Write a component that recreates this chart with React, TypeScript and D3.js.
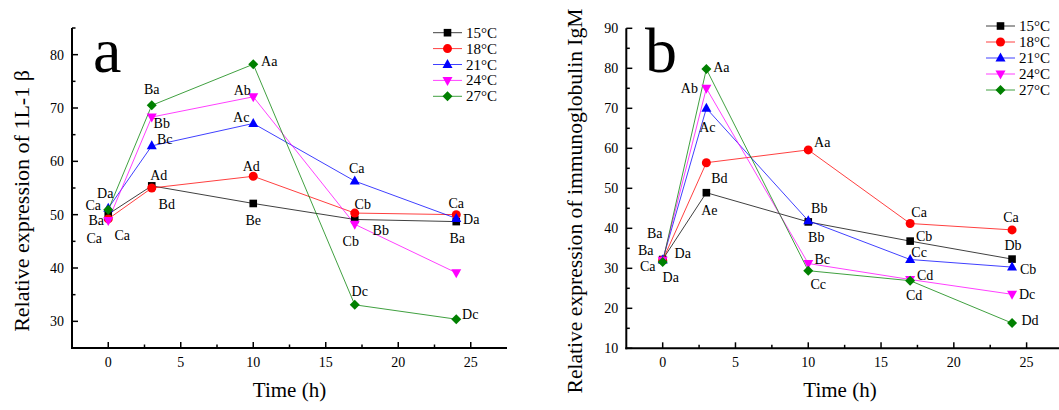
import React from "react";
import * as d3 from "d3";

const times = [0, 3, 10, 17, 24];
const seriesNames = ["15°C", "18°C", "21°C", "24°C", "27°C"];
const colors = ["#000000", "#ff0000", "#0000ff", "#ff00ff", "#008000"];
const shapes = ["square", "circle", "triangle", "triangleDown", "diamond"];

// Panel a: IL-1β
const a15 = [50.1, 55.4, 52.1, 49.1, 48.7];
const a18 = [49.2, 55.0, 57.2, 50.3, 50.0];
const a21 = [51.2, 62.9, 67.1, 56.3, 49.3];
const a24 = [48.9, 68.3, 72.1, 48.2, 39.1];
const a27 = [50.9, 70.5, 78.2, 33.1, 30.4];

// Panel b: IgM
const b15 = [32.2, 48.9, 41.6, 36.8, 32.3];
const b18 = [32.0, 56.4, 59.6, 41.2, 39.6];
const b21 = [32.1, 70.0, 41.9, 32.2, 30.3];
const b24 = [32.0, 75.0, 31.2, 27.2, 23.5];
const b27 = [31.6, 79.8, 29.4, 26.9, 16.3];

const xTicks = [0, 5, 10, 15, 20, 25];
const yTicksA = [30, 40, 50, 60, 70, 80];
const yTicksB = [10, 20, 30, 40, 50, 60, 70, 80, 90];

// Significance letters: [series index, time index, text, dx, dy]
const labelsA: [number, number, string, number, number][] = [
  [4, 0, "Da", -3, -16],
  [2, 0, "Ca", -15, -3],
  [0, 0, "Ba", -12, 6],
  [3, 0, "Ca", -14, 18],
  [1, 0, "Ca", 14, 17],
  [4, 1, "Ba", 0, -16],
  [3, 1, "Bb", 10, 6],
  [2, 1, "Bc", 13, -6],
  [0, 1, "Ad", 7, -10],
  [1, 1, "Bd", 15, 16],
  [4, 2, "Aa", 16, -3],
  [3, 2, "Ab", -11, -6],
  [2, 2, "Ac", -12, -6],
  [1, 2, "Ad", -2, -10],
  [0, 2, "Be", 0, 17],
  [2, 3, "Ca", 2, -13],
  [1, 3, "Cb", 8, -9],
  [3, 3, "Bb", 26, 6],
  [0, 3, "Cb", -4, 22],
  [4, 3, "Dc", 5, -13],
  [1, 4, "Ca", 0, -11],
  [2, 4, "Da", 15, 1],
  [0, 4, "Ba", 1, 17],
  [4, 4, "Dc", 14, -5],
];

const labelsB: [number, number, string, number, number][] = [
  [0, 0, "Ba", -8, -26],
  [1, 0, "Ba", -17, -10],
  [2, 0, "Da", 20, -6],
  [3, 0, "Ca", -15, 6],
  [4, 0, "Da", 8, 16],
  [4, 1, "Aa", 15, -2],
  [3, 1, "Ab", -17, 0],
  [2, 1, "Ac", 1, 19],
  [1, 1, "Bd", 13, 16],
  [0, 1, "Ae", 3, 18],
  [1, 2, "Aa", 14, -7],
  [2, 2, "Bb", 11, -12],
  [0, 2, "Bb", 8, 16],
  [3, 2, "Bc", 14, -4],
  [4, 2, "Cc", 10, 14],
  [1, 3, "Ca", 9, -11],
  [0, 3, "Cb", 14, -5],
  [2, 3, "Cc", 9, -7],
  [3, 3, "Cd", 15, -4],
  [4, 3, "Cd", 4, 15],
  [1, 4, "Ca", -1, -12],
  [0, 4, "Db", 1, -14],
  [2, 4, "Cb", 16, 2],
  [3, 4, "Dc", 15, 0],
  [4, 4, "Dd", 18, -3],
];

const FONT = '"Liberation Serif", "Times New Roman", Tinos, Times, serif';

function Marker({ shape, x, y, color }: { shape: string; x: number; y: number; color: string }) {
  if (shape === "square") return <rect x={x - 3.8} y={y - 3.8} width={7.6} height={7.6} fill={color} />;
  if (shape === "circle") return <circle cx={x} cy={y} r={4.5} fill={color} />;
  if (shape === "triangle")
    return <path d={`M${x},${y - 5.5}L${x + 5},${y + 3.5}L${x - 5},${y + 3.5}Z`} fill={color} />;
  if (shape === "triangleDown")
    return <path d={`M${x},${y + 5.5}L${x + 5},${y - 3.5}L${x - 5},${y - 3.5}Z`} fill={color} />;
  return <path d={`M${x},${y - 5}L${x + 5},${y}L${x},${y + 5}L${x - 5},${y}Z`} fill={color} />;
}

type PanelProps = {
  data: number[][];
  xRange: [number, number];
  yRange: [number, number];
  yDomain: [number, number];
  yTicks: number[];
  yMinorStep: number;
  labels: [number, number, string, number, number][];
  letter: string;
  letterPos: [number, number];
  yTitle: string;
  yTitleSize: number;
  yTitlePos: [number, number];
  xTitlePos: [number, number];
  legendPos: [number, number];
  legendRowH: number;
};

function Panel(p: PanelProps) {
  const x = d3.scaleLinear().domain([-2.5, 27.5]).range(p.xRange);
  const y = d3.scaleLinear().domain(p.yDomain).range(p.yRange);
  const line = d3
    .line<number>()
    .x((_, i) => x(times[i]))
    .y((d) => y(d));
  const x0 = p.xRange[0];
  const y0 = p.yRange[0];
  const minorX = d3.range(2.5, 27.5, 5);
  const minorY: number[] = [];
  for (let v = p.yDomain[0]; v <= p.yDomain[1] + 1e-9; v += p.yMinorStep) {
    if (!p.yTicks.some((t) => Math.abs(t - v) < 1e-9)) minorY.push(v);
  }
  return (
    <g>
      {/* axes */}
      <line x1={x0} x2={x0} y1={p.yRange[1]} y2={y0 + 1} stroke="#000" strokeWidth={2} />
      <line x1={x0 - 1} x2={p.xRange[1]} y1={y0} y2={y0} stroke="#000" strokeWidth={2} />
      {xTicks.map((t) => (
        <g key={"xt" + t}>
          <line x1={x(t)} x2={x(t)} y1={y0} y2={y0 - 6} stroke="#000" strokeWidth={1.5} />
          <text x={x(t)} y={y0 + 19} fontSize={14} textAnchor="middle">
            {t}
          </text>
        </g>
      ))}
      {minorX.map((t) => (
        <line key={"xm" + t} x1={x(t)} x2={x(t)} y1={y0} y2={y0 - 3.5} stroke="#000" strokeWidth={1.5} />
      ))}
      {p.yTicks.map((t) => (
        <g key={"yt" + t}>
          <line x1={x0} x2={x0 + 6} y1={y(t)} y2={y(t)} stroke="#000" strokeWidth={1.5} />
          <text x={x0 - 8} y={y(t) + 5} fontSize={14} textAnchor="end">
            {t}
          </text>
        </g>
      ))}
      {minorY.map((t) => (
        <line key={"ym" + t} x1={x0} x2={x0 + 3.5} y1={y(t)} y2={y(t)} stroke="#000" strokeWidth={1.5} />
      ))}
      {/* titles */}
      <text
        transform={`translate(${p.yTitlePos[0]},${p.yTitlePos[1]}) rotate(-90)`}
        fontSize={p.yTitleSize}
        textAnchor="middle"
        dominantBaseline="central"
      >
        {p.yTitle}
      </text>
      <text x={p.xTitlePos[0]} y={p.xTitlePos[1]} fontSize={21} textAnchor="middle">
        Time (h)
      </text>
      <text x={p.letterPos[0]} y={p.letterPos[1]} fontSize={64}>
        {p.letter}
      </text>
      {/* series */}
      {p.data.map((vals, si) => (
        <path key={"l" + si} d={line(vals) || ""} fill="none" stroke={colors[si]} strokeWidth={1} strokeOpacity={0.75} />
      ))}
      {p.data.map((vals, si) =>
        vals.map((v, ti) => (
          <Marker key={"m" + si + "-" + ti} shape={shapes[si]} x={x(times[ti])} y={y(v)} color={colors[si]} />
        ))
      )}
      {p.labels.map(([si, ti, txt, dx, dy], i) => (
        <text
          key={"lb" + i}
          x={x(times[ti]) + dx}
          y={y(p.data[si][ti]) + dy}
          fontSize={14}
          textAnchor="middle"
          dominantBaseline="central"
        >
          {txt}
        </text>
      ))}
      {/* legend */}
      {seriesNames.map((n, i) => {
        const ly = p.legendPos[1] + i * p.legendRowH;
        const lx = p.legendPos[0];
        return (
          <g key={"lg" + i}>
            <line x1={lx} x2={lx + 29} y1={ly} y2={ly} stroke={colors[i]} strokeWidth={1} strokeOpacity={0.75} />
            <Marker shape={shapes[i]} x={lx + 14.5} y={ly} color={colors[i]} />
            <text x={lx + 33} y={ly} fontSize={15} dominantBaseline="central">
              {n}
            </text>
          </g>
        );
      })}
    </g>
  );
}

export default function App() {
  return (
    <svg
      width={1059}
      height={410}
      style={{ position: "absolute", left: 0, top: 0, background: "#fff", fontFamily: FONT }}
    >
      <rect width={1059} height={410} fill="#fff" />
      <Panel
        data={[a15, a18, a21, a24, a27]}
        xRange={[72, 507]}
        yRange={[348, 28]}
        yDomain={[25, 85]}
        yTicks={yTicksA}
        yMinorStep={5}
        labels={labelsA}
        letter="a"
        letterPos={[93, 72]}
        yTitle="Relative expression of 1L-1 β"
        yTitleSize={22}
        yTitlePos={[21, 201]}
        xTitlePos={[289.5, 397]}
        legendPos={[433, 32.7]}
        legendRowH={15.9}
      />
      <Panel
        data={[b15, b18, b21, b24, b27]}
        xRange={[626.3, 1063]}
        yRange={[348.3, 28.3]}
        yDomain={[10, 90]}
        yTicks={yTicksB}
        yMinorStep={5}
        labels={labelsB}
        letter="b"
        letterPos={[645, 72]}
        yTitle="Relative expression of immunoglobulin IgM"
        yTitleSize={21.6}
        yTitlePos={[575, 201]}
        xTitlePos={[840, 397]}
        legendPos={[986, 26]}
        legendRowH={16}
      />
    </svg>
  );
}
